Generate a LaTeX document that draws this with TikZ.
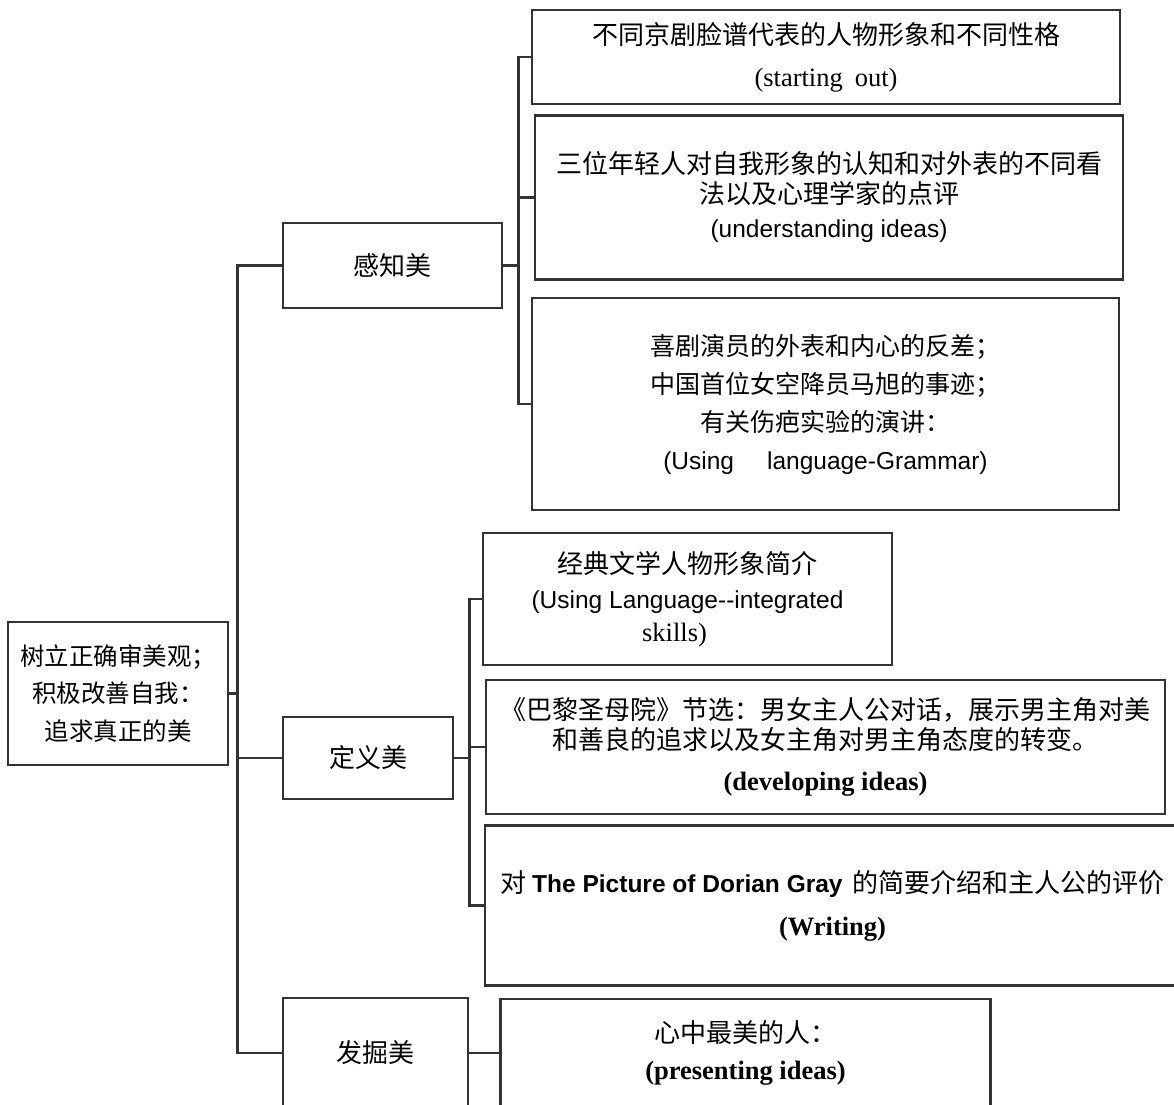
\documentclass[tikz,border=0pt]{standalone}
\usepackage{fontspec}
\setmainfont{Liberation Serif}
\setsansfont{Liberation Sans}
\newfontfamily\cjk{Noto Sans CJK SC}
\newcommand\latsans{\sffamily\fontsize{24.5}{37}\selectfont}
\newcommand\latserif{\rmfamily\fontsize{26.5}{37}\selectfont}
\usepackage{tikz}
\usetikzlibrary{positioning, calc}
\tikzset{main node/.style={draw=black!80, line width=2.5pt, inner sep=0pt, align=center, font=\cjk\fontsize{26}{37}\selectfont},}
\tikzset{link/.style={draw=black!80, line width=2.5pt},}

\begin{document}
\begin{tikzpicture}[x=1pt, y=-1pt]
			\useasboundingbox (0,0) rectangle (1174,1104);
			\clip (0,0) rectangle (1174,1104);
			% Left column
			\node[main node, minimum width=220pt, minimum height=143pt, font=\cjk\fontsize{24.5}{37.5}\selectfont] (root) at (118,693.5) {树立正确审美观；\\积极改善自我：\\追求真正的美};
			\node[main node, minimum width=219pt, minimum height=85pt] (gz) at (392.5,265.5) {感知美};
			\node[main node, minimum width=170pt, minimum height=82pt] (dy) at (368,758) {定义美};
			\node[main node, minimum width=185pt, minimum height=110pt] (fj) at (375.5,1053) {发掘美};
			% Right column
			\node[main node, minimum width=588pt, minimum height=94pt] (l1) at (826,57) {不同京剧脸谱代表的人物形象和不同性格\\[5pt]{\latserif (starting\hspace{12pt}out)}};
			\node[main node, minimum width=588pt, minimum height=164pt] [below=9pt of l1, xshift=3pt] (l2) {三位年轻人对自我形象的认知和对外表的不同看\\[-7pt]法以及心理学家的点评\\[-3pt]{\latsans (understanding ideas)}};
			\node[main node, minimum width=587pt, minimum height=212pt, font=\cjk\fontsize{25}{38}\selectfont] [below=16pt of l2, xshift=-3.5pt] (l3) {喜剧演员的外表和内心的反差；\\中国首位女空降员马旭的事迹；\\有关伤疤实验的演讲：\\{\latsans (Using\hspace{33pt}language-Grammar)}};
			\node[main node, minimum width=409pt, minimum height=132pt] (l4) at (687.5,599) {经典文学人物形象简介\\[-2pt]{\latsans (Using Language-{}-integrated}\\[-4pt]\hspace*{-26pt}{\latserif skills)}};
			\node[main node, minimum width=679pt, minimum height=134pt] (l5) at (825.5,747) {《巴黎圣母院》节选：男女主人公对话，展示男主角对美\\[-7pt]和善良的追求以及女主角对男主角态度的转变。\\[4pt]{\latserif\bfseries (developing ideas)}};
			\node[main node, minimum width=695pt, minimum height=160pt] [below=9pt of l5, xshift=7pt] (l6) {对 {\latsans\bfseries The Picture of Dorian Gray}\hspace{10pt}的简要介绍和主人公的评价\\[6pt]{\latserif\bfseries (Writing)}};
			\node[main node, minimum width=490pt, minimum height=108pt] [right=30pt of fj] (l7) {心中最美的人：\\{\latserif\bfseries (presenting ideas)}};
			% Paths
			\draw[link] (root.east) -- ++(8,0) coordinate (t0);
			\draw[link] (gz.west) -| (t0) |- (fj.west);
			\draw[link] (t0) |- (dy.west);
			\draw[link] (gz.east) -- ++(15,0) coordinate (t1);
			\draw[link] (l1.west) -| (t1) |- (l3.west);
			\draw[link] (t1) |- (l2.west);
			\draw[link] (dy.east) -- ++(15,0) coordinate (t2);
			\draw[link] (l4.west) -| (t2) |- (l6.west);
			\draw[link] (t2) |- (l5.west);
			\draw[link] (fj.east) -- (l7.west);
		\end{tikzpicture}
\end{document}
